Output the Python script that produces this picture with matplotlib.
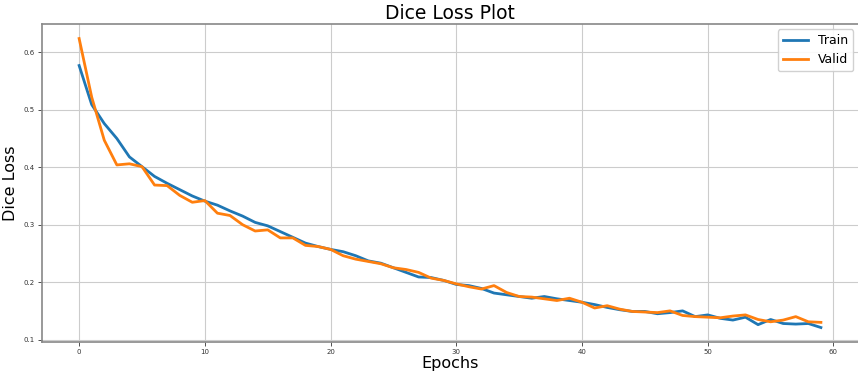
import matplotlib
matplotlib.use("Agg")
import matplotlib.pyplot as plt

epochs = list(range(60))

train_loss = [
    0.577, 0.509, 0.476, 0.450, 0.418, 0.401, 0.384, 0.372, 0.361, 0.350,
    0.341, 0.334, 0.324, 0.315, 0.304, 0.298, 0.288, 0.278, 0.268, 0.262,
    0.257, 0.253, 0.246, 0.237, 0.233, 0.225, 0.217, 0.209, 0.208, 0.203,
    0.196, 0.194, 0.189, 0.181, 0.178, 0.175, 0.172, 0.175, 0.171, 0.168,
    0.165, 0.161, 0.156, 0.152, 0.149, 0.149, 0.145, 0.147, 0.150, 0.140,
    0.143, 0.137, 0.134, 0.139, 0.126, 0.135, 0.128, 0.127, 0.128, 0.121,
]

valid_loss = [
    0.624, 0.522, 0.447, 0.404, 0.406, 0.401, 0.369, 0.368, 0.351, 0.339,
    0.342, 0.320, 0.316, 0.300, 0.289, 0.291, 0.277, 0.277, 0.264, 0.262,
    0.257, 0.246, 0.240, 0.236, 0.232, 0.225, 0.222, 0.217, 0.207, 0.203,
    0.197, 0.192, 0.188, 0.194, 0.182, 0.175, 0.174, 0.171, 0.168, 0.172,
    0.165, 0.155, 0.159, 0.153, 0.149, 0.148, 0.147, 0.150, 0.142, 0.140,
    0.139, 0.138, 0.141, 0.143, 0.135, 0.131, 0.134, 0.140, 0.131, 0.130,
]

fig = plt.figure(figsize=(8.58, 3.74), dpi=100)
ax = fig.add_axes([0.049, 0.0856, 0.951, 0.85])

ax.plot(epochs, train_loss, color="#1f77b4", lw=2, label="Train")
ax.plot(epochs, valid_loss, color="#ff7f0e", lw=2, label="Valid")

ax.set_title("Dice Loss Plot", fontsize=13.5, pad=4)
ax.set_xlabel("Epochs", fontsize=11.5, labelpad=1)
ax.set_ylabel("Dice Loss", fontsize=11.5, labelpad=4)
ax.grid(True, color="#cccccc", lw=0.8)
ax.tick_params(labelsize=5, colors="#333333", length=3, width=0.6, pad=2)
for side in ("left", "bottom", "top"):
    ax.spines[side].set_color("#888888")
    ax.spines[side].set_linewidth(1.2)
ax.spines["right"].set_visible(False)

ax.legend(fontsize=9, loc="upper right", handlelength=2.0,
          borderaxespad=0.4, framealpha=0.9)

fig.savefig("out.png", dpi=100)
